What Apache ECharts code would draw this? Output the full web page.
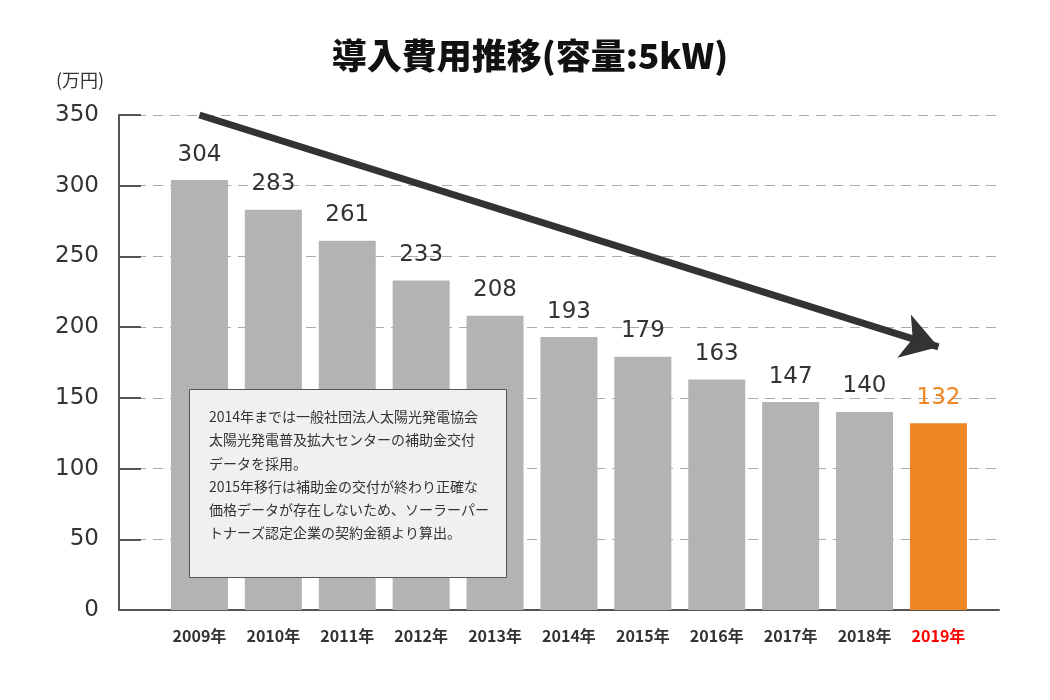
<!DOCTYPE html>
<html>
<head>
<meta charset="utf-8">
<script src="https://cdn.jsdelivr.net/npm/echarts@6/dist/echarts.min.js"></script>
<style>html,body{margin:0;padding:0;background:#fff}#c{width:1050px;height:700px}</style>
</head>
<body>
<div id="c"></div>
<script>
const categories = ['2009年','2010年','2011年','2012年','2013年','2014年','2015年','2016年','2017年','2018年','2019年'];
const costs = [304, 283, 261, 233, 208, 193, 179, 163, 147, 140, 132];
const yTicks = [0, 50, 100, 150, 200, 250, 300, 350];
const arrowFrom = ['2009年', 350];
const arrowTo = ['2019年', 186];
const titleText = '導入費用推移(容量:5kW)';
const unitText = '(万円)';
const noteLines = [
  '2014年までは一般社団法人太陽光発電協会',
  '太陽光発電普及拡大センターの補助金交付',
  'データを採用。',
  '2015年移行は補助金の交付が終わり正確な',
  '価格データが存在しないため、ソーラーパー',
  'トナーズ認定企業の契約金額より算出。'
];

const NUM = '"DejaVu Sans", "Noto Sans CJK JP", sans-serif';
const JP = '"Noto Sans CJK JP", sans-serif';
const last = categories.length - 1;

const chart = echarts.init(document.getElementById('c'), null, {renderer: 'canvas'});
chart.setOption({
  backgroundColor: '#ffffff',
  animation: false,
  title: [
    {text: titleText, left: 525, top: 33, textAlign: 'center',
     textStyle: {fontFamily: JP, fontSize: 35, fontWeight: 900, color: '#111'}},
    {text: unitText, left: 51, top: 66,
     textStyle: {fontFamily: JP, fontSize: 18, fontWeight: 'normal', color: '#333'}}
  ],
  grid: [
    {left: 119, right: 51, top: 115, bottom: 90},
    {left: 162.5, right: 74.6, top: 115, bottom: 90}
  ],
  xAxis: [
    {type: 'category', gridIndex: 0, data: categories,
     axisLine: {show: true, lineStyle: {color: '#555', width: 2}},
     axisTick: {show: false}, axisLabel: {show: false}, splitLine: {show: false}},
    {type: 'category', gridIndex: 1,
     data: categories.map((c, i) => i === last ? {value: c, textStyle: {color: '#ff0000'}} : c),
     axisLine: {show: false}, axisTick: {show: false},
     axisLabel: {margin: 18, fontFamily: '"Liberation Sans Narrow", "Noto Sans CJK JP", sans-serif',
                 fontSize: 16, fontWeight: 'bold', color: '#333'}}
  ],
  yAxis: [
    {type: 'value', gridIndex: 0, min: yTicks[0], max: yTicks[yTicks.length - 1], interval: 50,
     axisLine: {show: true, lineStyle: {color: '#555', width: 2}},
     axisTick: {show: true, inside: true, length: 22, lineStyle: {color: '#555', width: 2}},
     axisLabel: {margin: 20, fontFamily: NUM, fontSize: 23, color: '#333'},
     splitLine: {show: true, lineStyle: {color: '#aaa', width: 1, type: [10, 7]}}},
    {type: 'value', gridIndex: 1, min: yTicks[0], max: yTicks[yTicks.length - 1], interval: 50,
     show: false, splitLine: {show: false}}
  ],
  series: [{
    type: 'bar', xAxisIndex: 1, yAxisIndex: 1, barWidth: 57,
    data: costs.map((v, i) => i === last
      ? {value: v, itemStyle: {color: '#ef8623'}, label: {color: '#ef8623'}}
      : v),
    itemStyle: {color: '#b3b3b3'},
    label: {show: true, position: 'top', distance: 14, fontFamily: NUM, fontSize: 23, color: '#333'},
    markLine: {
      silent: true, symbol: ['none', 'arrow'], symbolSize: [34, 36],
      label: {show: false},
      lineStyle: {color: '#333', width: 7, type: 'solid'},
      data: [[{coord: arrowFrom}, {coord: arrowTo}]]
    },
    z: 2
  }],
  graphic: [
    {type: 'rect', left: 189, top: 389, z: 100, zlevel: 0,
     shape: {x: 0, y: 0, width: 317, height: 188},
     style: {fill: '#f0f0f0', stroke: '#555', lineWidth: 1}},
    {type: 'text', left: 209, top: 405, z: 101, zlevel: 0,
     style: {text: noteLines.join('\n'), fontFamily: JP, fontSize: 14, lineHeight: 23.3,
             fill: '#333'}}
  ]
});
</script>
</body>
</html>
